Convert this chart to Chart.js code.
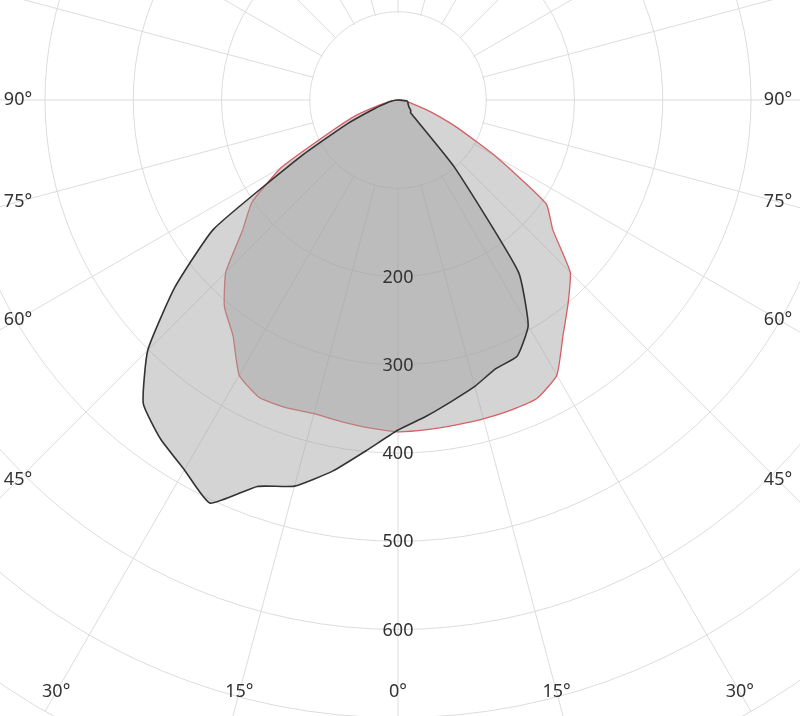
<!DOCTYPE html>
<html>
<head>
<meta charset="utf-8">
<script src="https://cdn.jsdelivr.net/npm/chart.js@4.4.0/dist/chart.umd.min.js"></script>
<style>
  html, body { margin: 0; padding: 0; background: #fff; }
  #frame { position: relative; width: 800px; height: 716px; overflow: hidden; }
  #polar { position: absolute; left: -308px; top: -606px; }
</style>
</head>
<body>
<div id="frame"><canvas id="polar" width="1412" height="1412"></canvas></div>
<script>
// angle of each sample, clockwise from nadir (0 = straight down, 90 = left, 270 = right)
const angles = [];
for (let a = 0; a < 360; a += 5) angles.push(a);

// luminous intensity, red curve
const redIntensity = [
  // 0..90 (left half)
  376, 373, 370, 368, 371, 372, 360, 326, 306, 276, 230, 202, 152, 82, 50, 22, 10, 4, 0,
  // 95..265 (upper half, no light)
  0, 0, 0, 0, 0,  0, 0, 0, 0, 0,  0, 0, 0, 0, 0,  0, 0, 0, 0, 0,
  0, 0, 0, 0, 0,  0, 0, 0, 0, 0,  0, 0, 0, 0, 0,
  // 270..355 (right half)
  0, 3, 8, 18, 40, 74, 128, 205, 229, 276, 300, 326, 360, 373, 374, 374, 374, 375
];

// luminous intensity, black curve
const blackIntensity = [
  // 0..90
  374, 398, 427, 453, 466, 504, 484, 469, 449, 401, 330, 255, 125, 62, 28, 14, 7, 3, 0,
  // 95..265
  0, 0, 0, 0, 0,  0, 0, 0, 0, 0,  0, 0, 0, 0, 0,  0, 0, 0, 0, 0,
  0, 0, 0, 0, 0,  0, 0, 0, 0, 0,  0, 0, 0, 0, 0,
  // 270..355
  0, 10, 11, 12, 12, 13, 14, 16, 19, 20, 100, 238, 295, 320, 324, 336, 347, 360
];

const tickLabels = [200, 300, 400, 500, 600];
const angleTicks = [0, 15, 30, 45, 60, 75, 90];

const GRID = "#dcdcdc";
const TEXT = "#333";
const SIDE = 380;    // distance from centre to the side labels
const BOTTOM = 592;  // distance from centre to the bottom labels

const photometric = {
  id: "photometric",
  beforeDatasetsDraw(chart) {
    const r = chart.scales.r;
    const ctx = chart.ctx;
    // blank disc in the middle, spokes start at 100
    ctx.save();
    ctx.beginPath();
    ctx.arc(r.xCenter, r.yCenter, r.getDistanceFromCenterForValue(100) - 1, 0, 2 * Math.PI);
    ctx.fillStyle = "#fff";
    ctx.fill();
    ctx.restore();
  },
  afterDatasetsDraw(chart) {
    const r = chart.scales.r;
    const ctx = chart.ctx;
    ctx.save();
    ctx.font = "18px 'Noto Sans'";
    ctx.fillStyle = TEXT;
    ctx.textAlign = "center";
    ctx.textBaseline = "middle";

    for (const v of tickLabels) {
      ctx.fillText(String(v), r.xCenter, r.yCenter + r.getDistanceFromCenterForValue(v) + 1);
    }

    for (const a of angleTicks) {
      const rad = a * Math.PI / 180;
      const s = Math.sin(rad), c = Math.cos(rad);
      const t = Math.min(s > 0.001 ? SIDE / s : Infinity, c > 0.001 ? BOTTOM / c : Infinity);
      const sides = a === 0 ? [1] : [-1, 1];
      for (const side of sides) {
        ctx.fillText(a + "°", r.xCenter + side * t * s, r.yCenter + t * c);
      }
    }
    ctx.restore();
  }
};

new Chart(document.getElementById("polar"), {
  type: "radar",
  data: {
    labels: angles,
    datasets: [
      {
        label: "C0-C180",
        data: blackIntensity,
        borderColor: "#333",
        borderWidth: 1.6,
        backgroundColor: "rgba(160,160,160,0.45)",
        fill: true,
        spanGaps: true,
        order: 0
      },
      {
        label: "C90-C270",
        data: redIntensity,
        borderColor: "rgb(215,95,100)",
        borderWidth: 1.3,
        backgroundColor: "rgba(160,160,160,0.45)",
        fill: true,
        spanGaps: true,
        order: 1
      }
    ]
  },
  options: {
    responsive: false,
    animation: false,
    layout: { padding: 0 },
    plugins: { legend: { display: false }, tooltip: { enabled: false } },
    elements: { point: { radius: 0 }, line: { tension: 0.15 } },
    scales: {
      r: {
        min: 0,
        max: 800,
        startAngle: 180,
        ticks: { display: false, stepSize: 100 },
        pointLabels: { display: false },
        grid: { circular: true, color: GRID, lineWidth: 1 },
        angleLines: {
          color: GRID,
          lineWidth: c => (c.index % 3 === 0 ? 1 : 0)
        }
      }
    }
  },
  plugins: [photometric]
});
</script>
</body>
</html>
